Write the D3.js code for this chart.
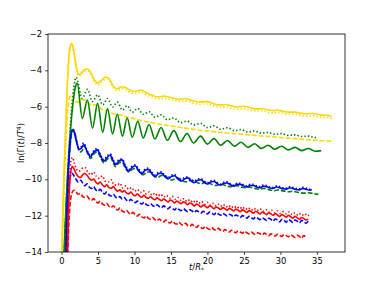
<!DOCTYPE html>
<html>
<head>
<meta charset="utf-8">
<script src="https://cdn.jsdelivr.net/npm/d3@7"></script>
<style>
  html, body { margin: 0; padding: 0; background: #fff; }
  svg { display: block; font-family: "DejaVu Sans", sans-serif; }
</style>
</head>
<body>
<div id="chart"></div>
<script>
// tick labels
const xTicks = [0, 5, 10, 15, 20, 25, 30, 35];
const yTicks = [-14, -12, -10, -8, -6, -4, -2];

// series: [t/R*, ln(Gamma/T^4)]
const yellowSolid = [[0,-14.5],[0.2,-11.5],[0.4,-9],[0.6,-6.8],[0.8,-4.8],[1.0,-3.3],[1.2,-2.65],[1.35,-2.52],[1.5,-2.6],[1.7,-3.0],[1.9,-3.5],[2.1,-3.95],[2.35,-4.22],[2.6,-4.2],[2.9,-4.05],[3.2,-3.95],[3.5,-3.93],[3.8,-4.0],[4.1,-4.2],[4.4,-4.45],[4.7,-4.62],[5.0,-4.7],[5.3,-4.62],[5.6,-4.5],[5.9,-4.4],[6.2,-4.38],[6.5,-4.45],[6.8,-4.65],[7.1,-4.85],[7.4,-4.98],[7.7,-5.0],[8.0,-4.95],[8.4,-4.9],[8.8,-4.95],[9.2,-5.05],[9.6,-5.12],[10,-5.15],[10.5,-5.12],[11,-5.1],[11.5,-5.2],[12,-5.3],[12.5,-5.38],[13,-5.45],[13.5,-5.45],[14,-5.42],[14.5,-5.45],[15,-5.5],[15.5,-5.55],[16,-5.6],[16.5,-5.58],[17,-5.55],[17.5,-5.6],[18,-5.68],[18.5,-5.72],[19,-5.75],[19.5,-5.72],[20,-5.72],[20.5,-5.78],[21,-5.85],[21.5,-5.9],[22,-5.9],[22.5,-5.88],[23,-5.92],[23.5,-5.98],[24,-6.02],[24.5,-6.0],[25,-5.98],[25.5,-6.02],[26,-6.08],[26.5,-6.12],[27,-6.12],[27.5,-6.1],[28,-6.15],[28.5,-6.2],[29,-6.22],[29.5,-6.2],[30,-6.22],[30.5,-6.27],[31,-6.3],[31.5,-6.3],[32,-6.3],[32.5,-6.34],[33,-6.38],[33.5,-6.4],[34,-6.38],[34.5,-6.38],[35,-6.42],[35.5,-6.45],[36,-6.47],[36.5,-6.48],[37,-6.55]];
const yellowDotted = [[0,-15],[0.2,-11.8],[0.4,-9.2],[0.6,-7],[0.8,-5],[1.0,-3.5],[1.2,-2.75],[1.35,-2.6],[1.5,-2.7],[1.7,-3.1],[1.9,-3.6],[2.1,-4.05],[2.35,-4.32],[2.6,-4.3],[2.9,-4.15],[3.2,-4.05],[3.5,-4.03],[3.8,-4.1],[4.1,-4.3],[4.4,-4.55],[4.7,-4.72],[5.0,-4.8],[5.3,-4.72],[5.6,-4.6],[5.9,-4.5],[6.2,-4.48],[6.5,-4.55],[6.8,-4.75],[7.1,-4.95],[7.4,-5.08],[7.7,-5.1],[8.0,-5.06],[8.4,-5.02],[8.8,-5.06],[9.2,-5.16],[9.6,-5.24],[10,-5.26],[10.5,-5.24],[11,-5.22],[11.5,-5.32],[12,-5.42],[12.5,-5.5],[13,-5.56],[13.5,-5.56],[14,-5.54],[14.5,-5.57],[15,-5.62],[15.5,-5.67],[16,-5.72],[16.5,-5.7],[17,-5.68],[17.5,-5.72],[18,-5.8],[18.5,-5.84],[19,-5.87],[19.5,-5.85],[20,-5.85],[20.5,-5.9],[21,-5.97],[21.5,-6.02],[22,-6.02],[22.5,-6.0],[23,-6.04],[23.5,-6.1],[24,-6.14],[24.5,-6.12],[25,-6.1],[25.5,-6.14],[26,-6.2],[26.5,-6.24],[27,-6.24],[27.5,-6.22],[28,-6.27],[28.5,-6.32],[29,-6.34],[29.5,-6.32],[30,-6.34],[30.5,-6.38],[31,-6.42],[31.5,-6.42],[32,-6.42],[32.5,-6.46],[33,-6.5],[33.5,-6.52],[34,-6.5],[34.5,-6.5],[35,-6.54],[35.5,-6.57],[36,-6.59],[36.5,-6.6],[37,-6.66]];
const yellowDashed = [[0,-15],[0.3,-11],[0.6,-7.8],[0.9,-6.0],[1.1,-5.5],[1.35,-5.35],[1.6,-5.45],[1.9,-5.68],[2.2,-5.75],[2.6,-5.65],[3.0,-5.6],[3.4,-5.7],[3.8,-5.85],[4.2,-5.92],[4.6,-5.9],[5.0,-5.98],[5.4,-6.1],[5.8,-6.2],[6.2,-6.22],[6.6,-6.3],[7.0,-6.38],[7.5,-6.42],[8.0,-6.45],[8.5,-6.52],[9,-6.58],[9.5,-6.62],[10,-6.66],[10.5,-6.72],[11,-6.78],[11.5,-6.82],[12,-6.85],[13,-6.93],[14,-7.0],[15,-7.06],[16,-7.12],[17,-7.18],[18,-7.24],[19,-7.3],[20,-7.34],[21,-7.38],[22,-7.42],[23,-7.46],[24,-7.5],[25,-7.53],[26,-7.56],[27,-7.6],[28,-7.63],[29,-7.66],[30,-7.7],[31,-7.73],[32,-7.76],[33,-7.8],[34,-7.83],[35,-7.86],[36,-7.88],[37,-7.9]];

const greenSolid = [[0.25,-15],[0.5,-12.5],[0.8,-10],[1.1,-8],[1.4,-6.5],[1.7,-5.4],[1.95,-4.85],[2.15,-4.7],[2.85,-6.65],[3.55,-5.63],[4.25,-7.18],[4.95,-5.82],[5.65,-7.42],[6.3,-6.1],[7.0,-7.5],[7.65,-6.42],[8.35,-7.62],[9.0,-6.62],[9.7,-7.68],[10.45,-6.8],[11.2,-7.72],[12.0,-6.98],[12.8,-7.78],[13.65,-7.15],[14.5,-7.85],[15.4,-7.32],[16.3,-7.92],[17.2,-7.48],[18.1,-8.0],[19.05,-7.62],[20.0,-8.06],[20.9,-7.75],[21.8,-8.12],[22.75,-7.86],[23.7,-8.18],[24.6,-7.96],[25.55,-8.24],[26.45,-8.04],[27.4,-8.3],[28.3,-8.12],[29.2,-8.34],[30.15,-8.18],[31.1,-8.38],[32.0,-8.24],[32.9,-8.42],[33.85,-8.3],[34.75,-8.45],[35.6,-8.42]];
const greenDotted = [[0.25,-15.5],[0.5,-12.8],[0.8,-10],[1.1,-7.8],[1.4,-6.0],[1.7,-4.9],[2.0,-4.38],[2.85,-5.55],[3.55,-5.05],[4.25,-5.72],[4.95,-5.35],[5.65,-5.9],[6.3,-5.55],[7.0,-6.02],[7.65,-5.75],[8.35,-6.18],[9.0,-5.95],[9.7,-6.3],[10.45,-6.1],[11.2,-6.42],[12.0,-6.28],[12.8,-6.58],[13.65,-6.45],[14.5,-6.72],[15.4,-6.62],[16.3,-6.88],[17.2,-6.8],[18.1,-7.0],[19.05,-6.92],[20.0,-7.15],[20.9,-7.06],[21.8,-7.24],[22.75,-7.16],[23.7,-7.32],[24.6,-7.26],[25.55,-7.4],[26.45,-7.34],[27.4,-7.46],[28.3,-7.42],[29.2,-7.52],[30.15,-7.48],[31.1,-7.58],[32.0,-7.55],[32.9,-7.64],[33.85,-7.62],[34.75,-7.7],[35.1,-7.69]];
const greenDashed = [[0.25,-16],[0.5,-13],[0.8,-10.3],[1.1,-8.5],[1.35,-7.55],[1.6,-7.25],[1.85,-7.45],[2.15,-8.05],[2.5,-8.5],[2.8,-8.45],[3.1,-8.15],[3.5,-8.5],[3.97,-8.85],[4.45,-8.6],[4.9,-8.48],[5.35,-8.8],[5.8,-9.1],[6.25,-8.9],[6.7,-8.78],[7.05,-9.05],[7.4,-9.3],[7.85,-9.1],[8.3,-9.05],[8.75,-9.38],[9.2,-9.6],[9.7,-9.45],[10.2,-9.4],[10.7,-9.6],[11.2,-9.75],[11.7,-9.6],[12.2,-9.6],[12.7,-9.82],[13.2,-9.9],[13.7,-9.78],[14.2,-9.8],[14.7,-9.98],[15.2,-10.04],[15.7,-9.94],[16.2,-9.96],[16.7,-10.1],[17.2,-10.14],[17.7,-10.06],[18.2,-10.08],[18.7,-10.2],[19.2,-10.24],[19.7,-10.16],[20.2,-10.2],[20.7,-10.3],[21.2,-10.34],[21.7,-10.28],[22.2,-10.3],[22.7,-10.38],[23.2,-10.4],[23.7,-10.34],[24.2,-10.36],[24.7,-10.44],[25.2,-10.46],[25.7,-10.42],[26.2,-10.46],[26.7,-10.52],[27.2,-10.54],[27.7,-10.5],[28.2,-10.54],[28.7,-10.6],[29.2,-10.62],[29.7,-10.58],[30.2,-10.62],[30.7,-10.66],[31.2,-10.68],[31.7,-10.66],[32.2,-10.7],[32.7,-10.74],[33.2,-10.76],[33.7,-10.74],[34.2,-10.76],[34.7,-10.8],[35.2,-10.82]];

const blueSolid = [[0.5,-16],[0.7,-12.5],[0.9,-10],[1.1,-8.5],[1.3,-7.6],[1.55,-7.28],[1.8,-7.5],[2.1,-8.0],[2.4,-8.35],[2.7,-8.3],[3.05,-8.1],[3.5,-8.45],[3.97,-8.75],[4.45,-8.5],[4.9,-8.38],[5.35,-8.7],[5.8,-9.0],[6.25,-8.8],[6.7,-8.66],[7.05,-8.95],[7.4,-9.2],[7.85,-9.0],[8.3,-8.93],[8.75,-9.3],[9.2,-9.55],[9.65,-9.35],[10.1,-9.25],[10.55,-9.5],[11.0,-9.7],[11.45,-9.5],[11.9,-9.45],[12.35,-9.68],[12.8,-9.85],[13.25,-9.7],[13.7,-9.65],[14.15,-9.85],[14.6,-9.98],[15.05,-9.85],[15.5,-9.8],[15.95,-9.98],[16.4,-10.1],[16.85,-9.98],[17.3,-9.92],[17.75,-10.08],[18.2,-10.18],[18.65,-10.05],[19.1,-10.02],[19.55,-10.16],[20.0,-10.26],[20.45,-10.15],[20.9,-10.12],[21.35,-10.24],[21.8,-10.32],[22.25,-10.22],[22.7,-10.2],[23.15,-10.3],[23.6,-10.38],[24.05,-10.28],[24.5,-10.28],[24.95,-10.36],[25.4,-10.42],[25.85,-10.34],[26.3,-10.34],[26.75,-10.42],[27.2,-10.46],[27.65,-10.38],[28.1,-10.4],[28.55,-10.48],[29.0,-10.5],[29.45,-10.42],[29.9,-10.46],[30.35,-10.52],[30.8,-10.54],[31.25,-10.46],[31.7,-10.5],[32.15,-10.56],[32.6,-10.58],[33.05,-10.5],[33.5,-10.54],[34.0,-10.6],[34.3,-10.56]];
const blueDotted = [[0.5,-16],[0.7,-12.3],[0.9,-9.8],[1.1,-8.3],[1.3,-7.5],[1.55,-7.25],[1.8,-7.5],[2.1,-7.95],[2.4,-8.3],[2.7,-8.2],[3.05,-8.0],[3.5,-8.4],[3.97,-8.7],[4.45,-8.4],[4.9,-8.3],[5.35,-8.65],[5.8,-8.92],[6.25,-8.7],[6.7,-8.6],[7.05,-8.9],[7.4,-9.12],[7.85,-8.92],[8.3,-8.88],[8.75,-9.22],[9.2,-9.45],[9.65,-9.28],[10.1,-9.2],[10.55,-9.42],[11.0,-9.6],[11.45,-9.44],[11.9,-9.38],[12.35,-9.6],[12.8,-9.76],[13.25,-9.62],[13.7,-9.58],[14.15,-9.78],[14.6,-9.9],[15.05,-9.78],[15.5,-9.74],[15.95,-9.92],[16.4,-10.02],[16.85,-9.9],[17.3,-9.86],[17.75,-10.0],[18.2,-10.1],[18.65,-9.98],[19.1,-9.96],[19.55,-10.1],[20.0,-10.18],[20.45,-10.08],[20.9,-10.06],[21.35,-10.18],[21.8,-10.26],[22.25,-10.16],[22.7,-10.14],[23.15,-10.24],[23.6,-10.32],[24.05,-10.22],[24.5,-10.22],[24.95,-10.3],[25.4,-10.36],[25.85,-10.28],[26.3,-10.28],[26.75,-10.36],[27.2,-10.4],[27.65,-10.32],[28.1,-10.34],[28.55,-10.42],[29.0,-10.44],[29.45,-10.36],[29.9,-10.4],[30.35,-10.46],[30.8,-10.48],[31.25,-10.4],[31.7,-10.44],[32.15,-10.5],[32.6,-10.52],[33.05,-10.44],[33.5,-10.48],[34.0,-10.54],[34.3,-10.5]];
const blueDashed = [[0.55,-16],[0.75,-12.5],[0.95,-10.8],[1.15,-10.0],[1.4,-9.65],[1.7,-9.8],[2.0,-10.0],[2.3,-10.15],[2.6,-10.05],[2.9,-10.2],[3.2,-10.35],[3.5,-10.25],[3.8,-10.42],[4.1,-10.5],[4.4,-10.4],[4.7,-10.58],[5.0,-10.65],[5.3,-10.55],[5.6,-10.7],[5.9,-10.8],[6.2,-10.7],[6.5,-10.86],[6.8,-10.92],[7.1,-10.82],[7.4,-10.96],[7.7,-11.02],[8.0,-10.95],[8.3,-11.08],[8.6,-11.0],[8.9,-11.14],[9.2,-11.2],[9.5,-11.1],[9.8,-11.22],[10.1,-11.28],[10.4,-11.2],[10.7,-11.3],[11.0,-11.36],[11.3,-11.26],[11.6,-11.38],[11.9,-11.44],[12.2,-11.34],[12.5,-11.44],[12.8,-11.5],[13.1,-11.4],[13.4,-11.5],[13.7,-11.56],[14.0,-11.46],[14.3,-11.56],[14.6,-11.62],[14.9,-11.52],[15.2,-11.6],[15.5,-11.68],[15.8,-11.58],[16.1,-11.66],[16.4,-11.72],[16.7,-11.62],[17.0,-11.7],[17.3,-11.78],[17.6,-11.68],[17.9,-11.74],[18.2,-11.82],[18.5,-11.72],[18.8,-11.78],[19.1,-11.86],[19.4,-11.76],[19.7,-11.82],[20.0,-11.9],[20.3,-11.8],[20.6,-11.86],[20.9,-11.94],[21.2,-11.84],[21.5,-11.9],[21.8,-11.98],[22.1,-11.88],[22.4,-11.94],[22.7,-12.02],[23.0,-11.92],[23.3,-11.98],[23.6,-12.06],[23.9,-11.96],[24.2,-12.02],[24.5,-12.1],[24.8,-12.0],[25.1,-12.06],[25.4,-12.14],[25.7,-12.04],[26.0,-12.1],[26.3,-12.18],[26.6,-12.08],[26.9,-12.14],[27.2,-12.22],[27.5,-12.12],[27.8,-12.18],[28.1,-12.26],[28.4,-12.14],[28.7,-12.2],[29.0,-12.3],[29.3,-12.18],[29.6,-12.24],[29.9,-12.34],[30.2,-12.2],[30.5,-12.26],[30.8,-12.36],[31.1,-12.22],[31.4,-12.28],[31.7,-12.38],[32.0,-12.24],[32.3,-12.3],[32.6,-12.4],[32.9,-12.26],[33.2,-12.32],[33.5,-12.42],[33.8,-12.3]];

const redSolid = [[0.7,-16],[0.9,-12.5],[1.1,-10.4],[1.3,-9.5],[1.5,-9.3],[1.75,-9.45],[2.0,-9.7],[2.3,-9.85],[2.6,-9.9],[2.9,-9.75],[3.2,-9.68],[3.5,-9.78],[3.8,-9.95],[4.1,-10.05],[4.4,-9.98],[4.7,-10.15],[5.0,-10.25],[5.3,-10.15],[5.6,-10.3],[5.9,-10.4],[6.2,-10.3],[6.5,-10.45],[6.8,-10.5],[7.1,-10.4],[7.4,-10.55],[7.7,-10.65],[8.0,-10.58],[8.3,-10.7],[8.6,-10.62],[8.9,-10.75],[9.2,-10.8],[9.5,-10.7],[9.8,-10.84],[10.1,-10.9],[10.4,-10.8],[10.7,-10.92],[11.0,-10.98],[11.3,-10.88],[11.6,-11.0],[11.9,-11.05],[12.2,-10.96],[12.5,-11.06],[12.8,-11.12],[13.1,-11.02],[13.4,-11.1],[13.7,-11.18],[14.0,-11.08],[14.3,-11.16],[14.6,-11.24],[14.9,-11.14],[15.2,-11.2],[15.5,-11.3],[15.8,-11.2],[16.1,-11.26],[16.4,-11.34],[16.7,-11.24],[17.0,-11.3],[17.3,-11.4],[17.6,-11.3],[17.9,-11.36],[18.2,-11.46],[18.5,-11.36],[18.8,-11.42],[19.1,-11.52],[19.4,-11.42],[19.7,-11.48],[20.0,-11.56],[20.3,-11.46],[20.6,-11.52],[20.9,-11.62],[21.2,-11.52],[21.5,-11.58],[21.8,-11.66],[22.1,-11.56],[22.4,-11.62],[22.7,-11.7],[23.0,-11.6],[23.3,-11.66],[23.6,-11.74],[23.9,-11.64],[24.2,-11.7],[24.5,-11.78],[24.8,-11.68],[25.1,-11.74],[25.4,-11.82],[25.7,-11.72],[26.0,-11.78],[26.3,-11.86],[26.6,-11.76],[26.9,-11.82],[27.2,-11.9],[27.5,-11.8],[27.8,-11.86],[28.1,-11.94],[28.4,-11.84],[28.7,-11.9],[29.0,-11.98],[29.3,-11.88],[29.6,-11.96],[29.9,-12.04],[30.2,-11.94],[30.5,-12.0],[30.8,-12.08],[31.1,-11.98],[31.4,-12.06],[31.7,-12.14],[32.0,-12.04],[32.3,-12.12],[32.6,-12.2],[32.9,-12.1],[33.2,-12.16],[33.5,-12.24],[33.8,-12.2]];
const redDotted = [[0.7,-16],[0.9,-12.2],[1.1,-10.0],[1.3,-9.0],[1.5,-8.8],[1.75,-9.1],[2.0,-9.4],[2.4,-9.55],[2.8,-9.4],[3.2,-9.35],[3.6,-9.6],[4.0,-9.75],[4.4,-9.6],[4.8,-9.85],[5.2,-9.95],[5.6,-9.82],[6.0,-10.1],[6.4,-10.15],[6.8,-10.02],[7.2,-10.3],[7.6,-10.32],[8.0,-10.22],[8.4,-10.48],[8.8,-10.36],[9.2,-10.55],[9.6,-10.46],[10.0,-10.65],[10.4,-10.56],[10.8,-10.72],[11.2,-10.62],[11.6,-10.8],[12.0,-10.7],[12.4,-10.88],[12.8,-10.76],[13.2,-10.92],[13.6,-10.82],[14.0,-10.98],[14.4,-10.88],[14.8,-11.04],[15.2,-10.94],[15.6,-11.1],[16.0,-11.0],[16.4,-11.16],[16.8,-11.06],[17.2,-11.22],[17.6,-11.12],[18.0,-11.28],[18.4,-11.16],[18.8,-11.32],[19.2,-11.22],[19.6,-11.38],[20.0,-11.26],[20.4,-11.42],[20.8,-11.32],[21.2,-11.46],[21.6,-11.36],[22.0,-11.5],[22.4,-11.4],[22.8,-11.54],[23.2,-11.44],[23.6,-11.58],[24.0,-11.48],[24.4,-11.62],[24.8,-11.52],[25.2,-11.66],[25.6,-11.56],[26.0,-11.7],[26.4,-11.6],[26.8,-11.72],[27.2,-11.62],[27.6,-11.76],[28.0,-11.66],[28.4,-11.8],[28.8,-11.7],[29.2,-11.84],[29.6,-11.74],[30.0,-11.88],[30.4,-11.78],[30.8,-11.9],[31.2,-11.8],[31.6,-11.94],[32.0,-11.84],[32.4,-11.98],[32.8,-11.88],[33.2,-12.0],[33.6,-11.9],[33.9,-12.0]];
const redDashed = [[0.75,-16],[0.95,-13],[1.15,-11.5],[1.4,-10.8],[1.7,-10.6],[2.0,-10.7],[2.3,-10.82],[2.6,-10.78],[2.9,-10.95],[3.2,-11.0],[3.5,-10.92],[3.8,-11.08],[4.1,-11.15],[4.4,-11.06],[4.7,-11.22],[5.0,-11.3],[5.3,-11.2],[5.6,-11.35],[5.9,-11.42],[6.2,-11.32],[6.5,-11.48],[6.8,-11.55],[7.1,-11.45],[7.4,-11.6],[7.7,-11.68],[8.0,-11.58],[8.3,-11.74],[8.6,-11.8],[8.9,-11.7],[9.2,-11.84],[9.5,-11.92],[9.8,-11.82],[10.1,-11.96],[10.4,-12.02],[10.7,-11.92],[11.0,-12.06],[11.3,-12.12],[11.6,-12.02],[11.9,-12.14],[12.2,-12.2],[12.5,-12.1],[12.8,-12.22],[13.1,-12.28],[13.4,-12.18],[13.7,-12.3],[14.0,-12.34],[14.3,-12.24],[14.6,-12.36],[14.9,-12.4],[15.2,-12.3],[15.5,-12.42],[15.8,-12.46],[16.1,-12.36],[16.4,-12.48],[16.7,-12.52],[17.0,-12.42],[17.3,-12.54],[17.6,-12.58],[17.9,-12.48],[18.2,-12.6],[18.5,-12.64],[18.8,-12.54],[19.1,-12.66],[19.4,-12.7],[19.7,-12.6],[20.0,-12.7],[20.3,-12.76],[20.6,-12.66],[20.9,-12.76],[21.2,-12.8],[21.5,-12.7],[21.8,-12.8],[22.1,-12.86],[22.4,-12.76],[22.7,-12.84],[23.0,-12.9],[23.3,-12.8],[23.6,-12.88],[23.9,-12.94],[24.2,-12.84],[24.5,-12.9],[24.8,-12.96],[25.1,-12.86],[25.4,-12.94],[25.7,-13.0],[26.0,-12.9],[26.3,-12.98],[26.6,-13.04],[26.9,-12.94],[27.2,-13.0],[27.5,-13.06],[27.8,-12.96],[28.1,-13.04],[28.4,-13.1],[28.7,-13.0],[29.0,-13.06],[29.3,-13.12],[29.6,-13.02],[29.9,-13.08],[30.2,-13.14],[30.5,-13.04],[30.8,-13.1],[31.1,-13.16],[31.4,-13.06],[31.7,-13.12],[32.0,-13.2],[32.3,-13.08],[32.6,-13.14],[32.9,-13.24],[33.2,-13.1],[33.4,-13.16]];

const series = [
  { data: yellowSolid, color: '#ffd700', style: 'solid' },
  { data: yellowDotted, color: '#ffd700', style: 'dotted' },
  { data: yellowDashed, color: '#ffd700', style: 'dashed' },
  { data: greenSolid, color: '#008000', style: 'solid' },
  { data: greenDotted, color: '#008000', style: 'dotted' },
  { data: greenDashed, color: '#008000', style: 'dashed' },
  { data: blueSolid, color: '#0000ff', style: 'solid' },
  { data: blueDotted, color: '#0000ff', style: 'dotted' },
  { data: blueDashed, color: '#0000ff', style: 'dashed' },
  { data: redSolid, color: '#ff0000', style: 'solid' },
  { data: redDotted, color: '#ff0000', style: 'dotted' },
  { data: redDashed, color: '#ff0000', style: 'dashed' }
];

const width = 384, height = 288;
const margin = { top: 34, right: 39, bottom: 36, left: 48 };
const innerWidth = width - margin.left - margin.right;
const innerHeight = height - margin.top - margin.bottom;

const svg = d3.select('#chart').append('svg')
  .attr('width', width)
  .attr('height', height);

svg.append('defs').append('clipPath').attr('id', 'clip')
  .append('rect').attr('width', innerWidth).attr('height', innerHeight);

const g = svg.append('g')
  .attr('transform', `translate(${margin.left},${margin.top})`);

const x = d3.scaleLinear().domain([-1.85, 38.85]).range([0, innerWidth]);
const y = d3.scaleLinear().domain([-14, -2]).range([innerHeight, 0]);

const line = d3.line()
  .x(d => x(d[0]))
  .y(d => y(d[1]))
  .curve(d3.curveMonotoneX);

const dashes = { solid: null, dotted: '1.4,2.1', dashed: '4.8,2' };

const lines = g.append('g').attr('clip-path', 'url(#clip)');
series.forEach(s => {
  lines.append('path')
    .datum(s.data)
    .attr('fill', 'none')
    .attr('stroke', s.color)
    .attr('stroke-width', 1.6)
    .attr('stroke-dasharray', dashes[s.style])
    .attr('d', line);
});

// axes
const fmt = d => d < 0 ? '\u2212' + Math.abs(d) : String(d);
const xAxis = g.append('g')
  .attr('transform', `translate(0,${innerHeight})`)
  .call(d3.axisBottom(x).tickValues(xTicks).tickFormat(fmt).tickSize(3).tickPadding(3));
const yAxis = g.append('g')
  .call(d3.axisLeft(y).tickValues(yTicks).tickFormat(fmt).tickSize(3).tickPadding(3));

[xAxis, yAxis].forEach(a => {
  a.attr('font-size', 8.3).attr('font-family', '"DejaVu Sans", sans-serif');
  a.select('.domain').remove();
  a.selectAll('text').attr('fill', '#000');
  a.selectAll('line').attr('stroke', '#000').attr('stroke-width', 0.7);
});

// spines
g.append('rect')
  .attr('width', innerWidth)
  .attr('height', innerHeight)
  .attr('fill', 'none')
  .attr('stroke', '#000')
  .attr('stroke-width', 0.8);

// axis labels
const xl = svg.append('text')
  .attr('x', margin.left + innerWidth / 2)
  .attr('y', 270)
  .attr('text-anchor', 'middle')
  .attr('font-size', 8.3);
xl.append('tspan').attr('font-style', 'italic').text('t');
xl.append('tspan').text('/');
xl.append('tspan').attr('font-style', 'italic').text('R');
xl.append('tspan').attr('font-size', 6).attr('dy', 2).text('*');

const yl = svg.append('text')
  .attr('transform', `translate(24,${margin.top + innerHeight / 2}) rotate(-90)`)
  .attr('text-anchor', 'middle')
  .attr('font-size', 8.3);
yl.append('tspan').text('ln(\u0393(');
yl.append('tspan').attr('font-style', 'italic').text('t');
yl.append('tspan').text(')/');
yl.append('tspan').attr('font-style', 'italic').text('T');
yl.append('tspan').attr('font-size', 6).attr('dy', -3).text('4');
yl.append('tspan').attr('dy', 3).text(')');
</script>
</body>
</html>
